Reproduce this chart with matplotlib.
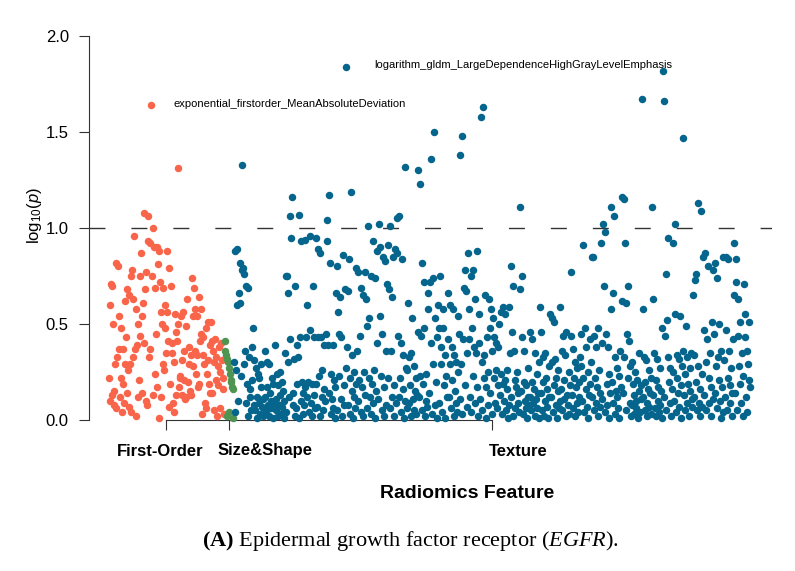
import numpy as np
import matplotlib
matplotlib.use('Agg')
import matplotlib.pyplot as plt

plt.rcParams['font.family'] = 'Liberation Sans'
plt.rcParams['mathtext.fontset'] = 'custom'
plt.rcParams['mathtext.rm'] = 'Liberation Serif'
plt.rcParams['mathtext.it'] = 'Liberation Serif:italic'
plt.rcParams['mathtext.bf'] = 'Liberation Serif:bold'
plt.rcParams['mathtext.sf'] = 'Liberation Sans'
plt.rcParams['mathtext.cal'] = 'Liberation Sans:italic'

# -log10(p) per feature, in feature order
groups = ['First-Order', 'Size&Shape', 'Texture']

first_order = [
    0.22, 0.60, 0.10, 0.71, 0.13, 0.70, 0.50, 0.08, 0.15, 0.29, 0.82, 0.06, 0.33, 0.80, 0.37,
    0.54, 0.12, 0.22, 0.48, 0.04, 0.19, 0.37, 0.09, 0.62, 0.29, 0.43, 0.68, 0.14, 0.26, 0.07,
    0.65, 0.29, 0.75, 0.04, 0.78, 0.63, 0.33, 0.96, 0.37, 0.58, 0.02, 0.39, 0.12, 0.50, 0.21,
    0.75, 0.44, 0.87, 0.14, 0.54, 0.61, 1.08, 0.40, 0.68, 0.10, 0.77, 0.08, 1.06, 0.93, 0.33,
    0.92, 0.37, 1.64, 0.75, 1.00, 0.13, 0.90, 0.69, 0.24, 0.45, 0.90, 0.17, 0.81, 0.88, 0.01,
    0.72, 0.12, 0.56, 0.50, 0.29, 0.69, 0.26, 0.48, 0.60, 0.35, 0.56, 0.88, 0.41, 0.07, 0.79,
    0.19, 0.70, 0.35, 0.40, 0.09, 0.30, 0.04, 0.55, 0.13, 0.46, 0.41, 1.31, 0.50, 0.17, 0.22,
    0.23, 0.54, 0.31, 0.13, 0.56, 0.36, 0.21, 0.11, 0.49, 0.12, 0.63, 0.20, 0.29, 0.38, 0.15,
    0.34, 0.13, 0.74, 0.28, 0.54, 0.69, 0.36, 0.58, 0.24, 0.54, 0.34, 0.17, 0.19, 0.64, 0.41,
    0.58, 0.45, 0.03, 0.43, 0.34, 0.29, 0.09, 0.48, 0.06, 0.24, 0.31, 0.51, 0.19, 0.39, 0.14,
    0.51, 0.14, 0.41, 0.36, 0.05, 0.30, 0.42, 0.21, 0.33, 0.02, 0.28, 0.18, 0.38, 0.06, 0.25,
    0.40, 0.31, 0.22, 0.16, 0.03,
]

shape = [0.41, 0.36, 0.34, 0.02, 0.32, 0.30, 0.04, 0.27, 0.24, 0.21, 0.20, 0.17, 0.01, 0.16]

texture = [
    0.30, 0.88, 0.04, 0.26, 0.89, 0.60, 0.10, 0.66, 0.82, 0.61, 0.23, 0.78, 1.33, 0.79, 0.29,
    0.76, 0.36, 0.09, 0.70, 0.19, 0.02, 0.69, 0.33, 0.12, 0.16, 0.05, 0.38, 0.21, 0.48, 0.08,
    0.31, 0.05, 0.27, 0.12, 0.01, 0.24, 0.09, 0.22, 0.03, 0.29, 0.17, 0.07, 0.11, 0.02, 0.06,
    0.12, 0.36, 0.04, 0.17, 0.30, 0.08, 0.02, 0.29, 0.14, 0.10, 0.06, 0.22, 0.01, 0.19, 0.09,
    0.39, 0.05, 0.11, 0.24, 0.02, 0.18, 0.08, 0.13, 0.25, 0.03, 0.20, 0.07, 0.15, 0.01, 0.10,
    0.35, 0.75, 0.04, 0.75, 0.30, 0.66, 0.12, 0.42, 1.06, 0.95, 1.16, 0.08, 0.14, 0.32, 0.02,
    0.70, 0.06, 0.39, 0.19, 0.33, 0.01, 1.07, 0.43, 0.10, 0.93, 0.20, 0.03, 0.14, 0.08, 0.17,
    0.94, 0.43, 0.12, 0.60, 0.20, 0.04, 0.47, 0.96, 0.09, 0.19, 0.02, 0.70, 0.43, 0.13, 0.06,
    0.95, 0.19, 0.07, 0.43, 0.89, 0.23, 0.02, 0.87, 0.43, 0.12, 0.26, 0.05, 0.16, 0.39, 0.10,
    0.45, 0.93, 1.04, 0.39, 0.14, 1.17, 0.82, 0.03, 0.24, 0.11, 0.39, 0.06, 0.21, 0.01, 0.17,
    0.66, 0.05, 0.80, 0.56, 0.23, 0.45, 0.64, 0.11, 0.43, 0.02, 0.86, 0.18, 0.08, 0.68, 0.27,
    1.84, 0.38, 0.67, 0.08, 0.84, 0.22, 0.03, 1.19, 0.34, 0.15, 0.01, 0.25, 0.12, 0.06, 0.19,
    0.79, 0.36, 0.10, 0.77, 0.21, 0.44, 0.04, 0.69, 0.17, 0.65, 0.02, 0.25, 0.77, 0.13, 0.63,
    0.49, 0.06, 1.01, 0.22, 0.53, 0.12, 0.75, 0.03, 0.19, 0.93, 0.09, 0.26, 0.74, 0.01, 0.15,
    0.88, 0.40, 0.11, 1.02, 0.54, 0.90, 0.23, 0.05, 0.45, 0.85, 0.17, 0.02, 0.83, 0.36, 0.08,
    0.71, 0.91, 0.22, 0.68, 0.06, 1.01, 0.36, 0.64, 0.12, 0.85, 0.18, 0.02, 0.89, 0.09, 1.05,
    0.87, 0.44, 0.12, 1.06, 0.22, 0.04, 0.40, 0.84, 0.16, 0.34, 0.01, 1.32, 0.10, 0.27, 0.06,
    0.26, 0.61, 0.09, 0.33, 0.18, 0.02, 0.35, 0.53, 0.11, 0.05, 0.28, 0.15, 0.22, 0.03, 0.13,
    1.30, 0.46, 0.12, 1.23, 0.23, 0.44, 0.05, 0.82, 0.19, 0.72, 0.48, 0.02, 0.10, 0.24, 0.07,
    0.66, 0.58, 0.14, 0.72, 0.40, 1.36, 0.03, 0.74, 0.29, 1.50, 0.53, 0.08, 0.20, 0.43, 0.01,
    0.60, 0.48, 0.09, 0.75, 0.29, 0.38, 0.04, 0.58, 0.48, 0.18, 0.34, 0.01, 0.23, 0.12, 0.66,
    0.42, 0.12, 0.60, 0.29, 0.06, 0.38, 0.21, 0.58, 0.02, 0.34, 0.15, 0.09, 0.30, 0.04, 0.25,
    0.54, 0.45, 0.11, 1.38, 0.29, 1.48, 0.03, 0.42, 0.69, 0.78, 0.18, 0.67, 0.35, 0.07, 0.87,
    0.58, 0.42, 0.12, 0.75, 0.04, 0.48, 0.78, 0.23, 0.38, 0.63, 0.09, 0.35, 0.88, 0.17, 0.02,
    0.55, 0.40, 0.11, 1.58, 0.30, 0.05, 1.63, 0.22, 0.34, 0.65, 0.17, 0.01, 0.43, 0.08, 0.25,
    0.63, 0.48, 0.14, 0.58, 0.36, 0.03, 0.53, 0.22, 0.43, 0.09, 0.40, 0.26, 0.06, 0.18, 0.38,
    0.50, 0.13, 0.56, 0.24, 0.03, 0.59, 0.19, 0.10, 0.55, 0.21, 0.05, 0.16, 0.26, 0.01, 0.08,
    0.59, 0.35, 0.12, 0.80, 0.46, 0.02, 0.70, 0.36, 0.21, 0.06, 0.17, 0.25, 0.09, 0.14, 0.04,
    1.11, 0.68, 0.15, 0.75, 0.43, 0.03, 0.20, 0.36, 0.10, 0.06, 0.18, 0.01, 0.12, 0.27, 0.08,
    0.12, 0.46, 0.05, 0.20, 0.42, 0.09, 0.16, 0.35, 0.02, 0.11, 0.24, 0.06, 0.14, 0.30, 0.01,
    0.59, 0.14, 0.46, 0.05, 0.33, 0.20, 0.02, 0.35, 0.10, 0.22, 0.07, 0.16, 0.01, 0.28, 0.12,
    0.55, 0.12, 0.53, 0.30, 0.04, 0.51, 0.18, 0.32, 0.08, 0.22, 0.01, 0.15, 0.26, 0.06, 0.10,
    0.59, 0.16, 0.36, 0.05, 0.44, 0.21, 0.11, 0.34, 0.02, 0.46, 0.13, 0.08, 0.25, 0.03, 0.18,
    0.44, 0.77, 0.13, 0.37, 0.06, 0.22, 0.30, 0.02, 0.17, 0.09, 0.27, 0.04, 0.20, 0.12, 0.33,
    0.28, 0.45, 0.10, 0.91, 0.22, 0.04, 0.48, 0.16, 0.38, 0.07, 0.25, 0.01, 0.13, 0.42, 0.19,
    0.30, 0.85, 0.12, 0.85, 0.44, 0.05, 0.22, 0.38, 0.09, 0.17, 0.02, 0.48, 0.26, 0.14, 0.07,
    0.92, 0.40, 0.11, 1.02, 0.70, 0.04, 0.98, 0.45, 0.19, 0.08, 0.38, 0.24, 0.01, 0.14, 0.58,
    1.11, 0.20, 0.66, 0.09, 1.06, 0.33, 0.03, 0.15, 0.27, 0.12, 0.06, 0.23, 0.01, 0.36, 0.17,
    1.16, 0.62, 0.14, 1.15, 0.33, 0.92, 0.05, 0.61, 0.45, 0.70, 0.22, 0.41, 0.09, 0.28, 0.02,
    0.30, 0.08, 0.19, 0.13, 0.03, 0.25, 0.10, 0.06, 0.21, 0.01, 0.15, 0.35, 0.04, 0.11, 0.18,
    1.67, 0.58, 0.12, 0.33, 0.05, 0.20, 0.31, 0.09, 0.02, 0.16, 0.26, 0.07, 0.14, 0.03, 0.22,
    1.11, 0.63, 0.13, 0.35, 0.06, 0.21, 0.02, 0.32, 0.10, 0.17, 0.04, 0.27, 0.08, 0.15, 0.01,
    0.48, 1.82, 1.66, 0.12, 0.44, 0.76, 0.05, 0.52, 0.33, 0.95, 0.20, 0.09, 0.27, 0.02, 0.16,
    0.92, 0.25, 0.10, 1.02, 0.55, 0.04, 0.34, 0.22, 0.14, 0.32, 0.07, 0.54, 0.18, 0.01, 0.28,
    0.36, 1.47, 0.13, 0.24, 0.05, 0.49, 0.33, 0.09, 0.19, 0.02, 0.27, 0.15, 0.35, 0.07, 0.11,
    0.65, 0.34, 0.12, 0.73, 0.20, 0.76, 0.05, 1.13, 0.28, 0.09, 0.16, 0.02, 1.09, 0.24, 0.07,
    0.85, 0.47, 0.13, 0.87, 0.30, 0.05, 0.42, 0.80, 0.22, 0.09, 0.35, 0.17, 0.02, 0.51, 0.11,
    0.78, 0.45, 0.14, 0.82, 0.28, 0.74, 0.06, 0.33, 0.21, 0.50, 0.10, 0.01, 0.36, 0.17, 0.04,
    0.85, 0.31, 0.12, 0.85, 0.47, 0.05, 0.84, 0.22, 0.36, 0.09, 0.18, 0.27, 0.02, 0.14, 0.42,
    0.92, 0.65, 0.14, 0.72, 0.84, 0.05, 0.63, 0.44, 0.28, 0.51, 0.19, 0.09, 0.35, 0.02, 0.23,
    0.71, 0.55, 0.43, 0.12, 0.36, 0.04, 0.29, 0.21, 0.51, 0.17,
]

highlight_labels = ['exponential_firstorder_MeanAbsoluteDeviation',
                    'logarithm_gldm_LargeDependenceHighGrayLevelEmphasis']
threshold = 1.0

colors = ['#F9654A', '#4F9451', '#05658C']

series = [np.array(first_order), np.array(shape), np.array(texture)]
starts = np.cumsum([0] + [len(s) for s in series])[:-1]
xs = [np.arange(len(s)) + st for s, st in zip(series, starts)]
n_total = sum(len(s) for s in series)

fig = plt.figure(figsize=(7.95, 5.71), dpi=100)
ax = fig.add_axes([89 / 795, 151 / 571, 683 / 795, 384 / 571])

for x, y, c in zip(xs, series, colors):
    ax.scatter(x, y, s=29, color=c, linewidths=0, clip_on=False, zorder=3)

ax.axhline(threshold, color='#333333', lw=1.0, dashes=(11.5, 18.7), zorder=2)

# label the top feature of first-order and texture groups
for (x, y), label, off in zip([(xs[0], series[0]), (xs[2], series[2])],
                              highlight_labels, [(22, 1), (28, 2)]):
    i = int(np.argmax(y))
    ax.annotate(label, xy=(x[i], y[i]), xytext=off, textcoords='offset pixels',
                ha='left', va='center', fontsize=8)

ppi = 641 / (n_total - 1)
ax.set_xlim(-20 / ppi, n_total - 1 + 22 / ppi)
ax.set_ylim(0, 2.0)

for side in ['top', 'right']:
    ax.spines[side].set_visible(False)
mids = [(x[0] + x[-1]) / 2 for x in xs]
ax.spines['left'].set_bounds(0, 2.0)
ax.spines['bottom'].set_bounds(mids[0], mids[-1])
for side in ['left', 'bottom']:
    ax.spines[side].set_color('#333333')
    ax.spines[side].set_linewidth(0.8)

ax.set_yticks([0, 0.5, 1.0, 1.5, 2.0])
ax.set_yticklabels(['0.0', '0.5', '1.0', '1.5', '2.0'])
ax.set_xticks(mids)
ax.set_xticklabels([])
ax.tick_params(axis='both', length=7.5, width=0.8, color='#333333')
ax.tick_params(axis='y', labelsize=12, pad=7)

for m, g, dx in zip(mids, groups, [-6, 36, 26]):
    ax.annotate(g, xy=(m, 0), xycoords=('data', 'axes fraction'),
                xytext=(dx, -31), textcoords='offset pixels',
                ha='center', va='center', fontsize=12, fontweight='bold')

fig.text(35 / 795, 1 - 216 / 571,
         r'$\mathsf{log}_{\mathsf{10}}\mathsf{(}\mathcal{p}\mathsf{)}$',
         rotation=90, ha='center', va='center', fontsize=12)
fig.text(467 / 795, 1 - 493 / 571, 'Radiomics Feature',
         ha='center', va='center', fontsize=14, fontweight='bold')
fig.text(410 / 795, 1 - 541 / 571,
         r'$\mathbf{(A)}$ Epidermal growth factor receptor ($\mathit{EGFR}$).',
         ha='center', va='center', fontsize=16, family='Liberation Serif')

fig.savefig('out.png', dpi=100)
